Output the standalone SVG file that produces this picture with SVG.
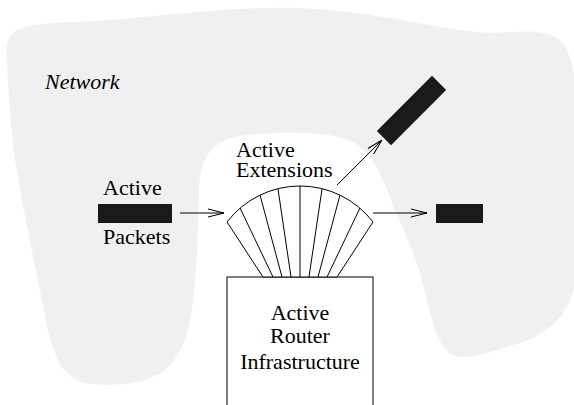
<svg xmlns="http://www.w3.org/2000/svg" width="574" height="405" viewBox="0 0 574 405">
<style>
text{font-family:"Liberation Serif","DejaVu Serif","Times New Roman",serif;font-size:22px;fill:#000}
.it{font-style:italic}
.pkt{fill:#1a1a1a}
.ln{stroke:#000;stroke-width:1;fill:none}
.arr{stroke:#000;stroke-width:1;fill:none;marker-end:url(#ah)}
</style>
<defs>
<marker id="ah" markerUnits="userSpaceOnUse" markerWidth="20" markerHeight="12" refX="16" refY="5" orient="auto">
<path d="M0,1 L16,5 L0,9" fill="none" stroke="#000" stroke-width="1"/>
</marker>
</defs>
<rect width="574" height="405" fill="#fff"/>
<g id="network">
<path fill="#f0f0f0" d="M7,60 C5,35 12,28 35,25 C70,21 90,22 110,20 C170,15 240,6 300,8 C380,12 440,30 490,33 C520,32 545,28 560,40 C572,52 576,80 576,100 L576,270 C576,300 560,330 520,343 C490,352 470,360 455,356 C438,350 432,320 425,292 C418,262 405,232 395,210 C380,170 370,145 340,137 C310,131 270,132 240,136 C210,141 200,160 199,190 C198,230 197,270 193,300 C190,330 185,350 165,370 C145,385 110,387 85,383 C65,378 55,360 48,330 C38,280 25,220 15,160 C10,120 8,90 7,60 Z"/>
<text class="it" x="45" y="89">Network</text>
</g>
<g id="active-packets">
<rect class="pkt" x="98" y="204" width="74" height="19"/>
<text x="103" y="195">Active</text>
<text x="103" y="244">Packets</text>
</g>
<g id="out-packet">
<rect class="pkt" x="436" y="204" width="47" height="19"/>
</g>
<g id="ext-packet">
<rect class="pkt" x="-39" y="-10" width="78" height="20" transform="translate(411.5,110.5) rotate(-45)"/>
</g>
<g id="router">
<rect x="227" y="277" width="146" height="140" fill="#fff" stroke="#000" stroke-width="1"/>
<text x="300" y="320" text-anchor="middle">Active</text>
<text x="300" y="343" text-anchor="middle">Router</text>
<text x="300" y="369" text-anchor="middle">Infrastructure</text>
</g>
<g id="extensions">
<path d="M263,277 L227,222 A92,92 0 0 1 373,222 L337,277 Z" fill="#fff" stroke="#000" stroke-width="1"/>
<path class="ln" d="M273,277 L240,208 M282,277 L260,195 M291,277 L278,189 M300,277 L300,186 M309,277 L322,189 M318,277 L340,195 M327,277 L360,208"/>
<text x="236" y="157" font-size="21">Active</text>
<text x="236" y="177" font-size="21.5">Extensions</text>
</g>
<g id="connectors">
<line class="arr" x1="180" y1="213" x2="224" y2="213"/>
<line class="arr" x1="373" y1="213" x2="427" y2="213"/>
<line class="arr" x1="337" y1="185" x2="382" y2="140"/>
</g>
</svg>
